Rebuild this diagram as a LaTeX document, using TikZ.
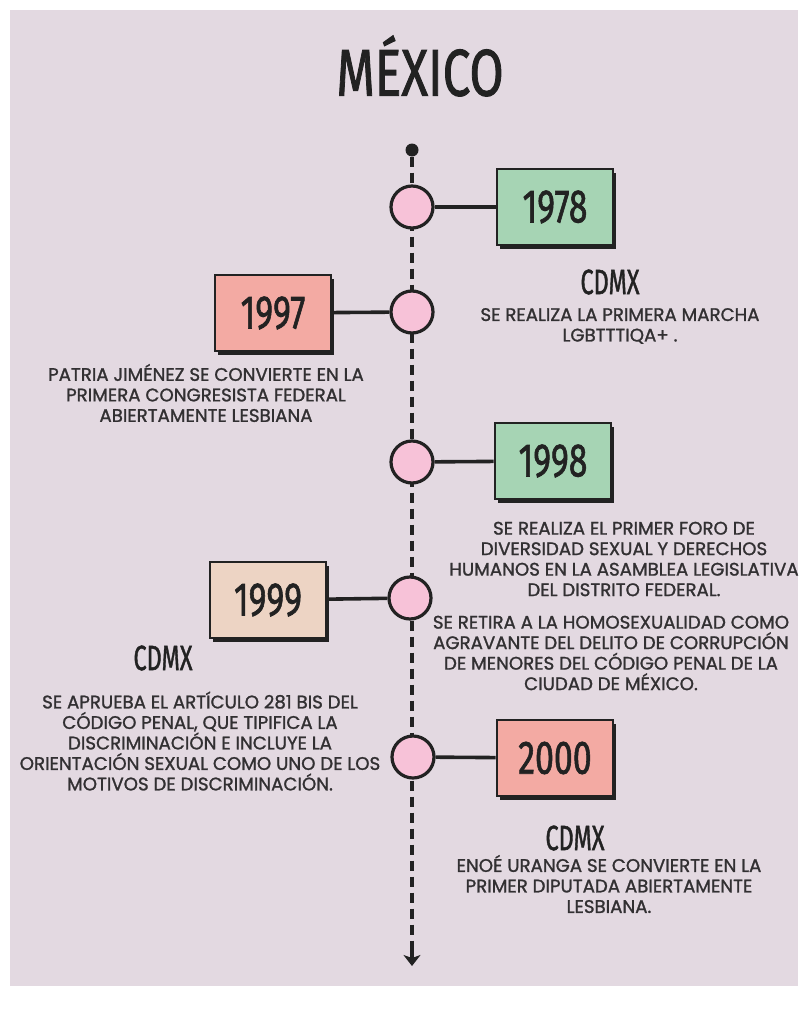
\documentclass[tikz,border=0pt]{standalone}
\usepackage{graphicx}
\usepackage{fontspec}
\setmainfont{Poppins}[FakeBold=1.3]
\newfontfamily\handf{Fira Sans}[FakeBold=1.6]
\usetikzlibrary{arrows.meta,shadows}
\definecolor{bg}{RGB}{227,217,225}
\definecolor{grn}{RGB}{166,212,180}
\definecolor{sal}{RGB}{243,170,163}
\definecolor{pch}{RGB}{237,212,196}
\definecolor{pnk}{RGB}{247,194,216}
\definecolor{ink}{RGB}{34,34,34}
\definecolor{txt}{RGB}{50,48,50}
\newcommand{\hw}[3]{\scalebox{#2}[1]{\handf\fontsize{#1}{#1}\selectfont #3}}
\begin{document}
\begin{tikzpicture}[x=1pt,y=-1pt,
  yearbox/.style={draw=ink, line width=2.8pt, minimum width=116pt, minimum height=76pt, inner sep=0pt,
    drop shadow={shadow xshift=3pt, shadow yshift=-3.5pt, fill=ink, opacity=1}, text=ink},
  dotnode/.style={circle, draw=ink, line width=3.2pt, fill=pnk, minimum size=42pt, inner sep=0pt},
  link/.style={draw=ink, line width=3.6pt},
  body/.style={text=txt, align=center, inner sep=0pt, font=\fontsize{18.2}{20.5}\selectfont},
  city/.style={text=ink, inner sep=0pt},
  spine/.style={draw=ink, line width=4pt, dash pattern=on 10pt off 6pt},
  tip/.style={draw=ink, line width=4pt, -{Stealth[length=11pt,width=17pt,inset=3pt]}}
]
\useasboundingbox (0,0) rectangle (798,1012);
\fill[white] (0,0) rectangle (798,1012);
\fill[bg] (10,10) rectangle (798,986);

% title
\node[text=ink, inner sep=0pt] (title) at (420,66) {\hw{66}{0.75}{MÉXICO}};

% spine
\node[circle, fill=ink, minimum size=13pt, inner sep=0pt] (top) at (412,150) {};
\coordinate (tipstart) at (412,950);
\coordinate (bot) at (412,966);
\draw[spine] (top) -- (tipstart);
\draw[tip] (tipstart) -- (bot);

% circles
\node[dotnode] (c1) at (412,207) {};
\node[dotnode] (c2) at (412,312) {};
\node[dotnode] (c3) at (412,462) {};
\node[dotnode] (c4) at (410,598) {};
\node[dotnode] (c5) at (413,757) {};

% year boxes
\node[yearbox, fill=grn] (b1) at (555,207) {\hw{47}{0.72}{1978}};
\node[yearbox, fill=sal] (b2) at (273,313) {\hw{47}{0.72}{1997}};
\node[yearbox, fill=grn] (b3) at (553,461) {\hw{47}{0.72}{1998}};
\node[yearbox, fill=pch] (b4) at (268,600) {\hw{47}{0.72}{1999}};
\node[yearbox, fill=sal] (b5) at (555,758) {\hw{47}{0.72}{2000}};

% connectors
\draw[link] (c1) -- (b1);
\draw[link] (c2) -- (b2);
\draw[link] (c3) -- (b3);
\draw[link] (c4) -- (b4);
\draw[link] (c5) -- (b5);

% texts
\node[city] (city1) at (610,282) {\hw{35}{0.67}{CDMX}};
\node[body] (t1) at (620,326) {SE REALIZA LA PRIMERA MARCHA\\LGBTTTIQA+ .};

\node[body] (t2) at (206,393) {PATRIA JIMÉNEZ SE CONVIERTE EN LA\\PRIMERA CONGRESISTA FEDERAL\\ABIERTAMENTE LESBIANA};

\node[body] (t3) at (624,559) {SE REALIZA EL PRIMER FORO DE\\DIVERSIDAD SEXUAL Y DERECHOS\\HUMANOS EN LA ASAMBLEA LEGISLATIVA\\DEL DISTRITO FEDERAL.};

\node[body] (t4) at (611,653) {SE RETIRA A LA HOMOSEXUALIDAD COMO\\AGRAVANTE DEL DELITO DE CORRUPCIÓN\\DE MENORES DEL CÓDIGO PENAL DE LA\\CIUDAD DE MÉXICO.};

\node[city] (city4) at (163,658) {\hw{35}{0.67}{CDMX}};
\node[body] (t5) at (200,741) {SE APRUEBA EL ARTÍCULO 281 BIS DEL\\CÓDIGO PENAL, QUE TIPIFICA LA\\DISCRIMINACIÓN E INCLUYE LA\\ORIENTACIÓN SEXUAL COMO UNO DE LOS\\MOTIVOS DE DISCRIMINACIÓN.};

\node[city] (city5) at (575,838) {\hw{35}{0.67}{CDMX}};
\node[body] (t6) at (609,884) {ENOÉ URANGA SE CONVIERTE EN LA\\PRIMER DIPUTADA ABIERTAMENTE\\LESBIANA.};
\end{tikzpicture}
\end{document}
